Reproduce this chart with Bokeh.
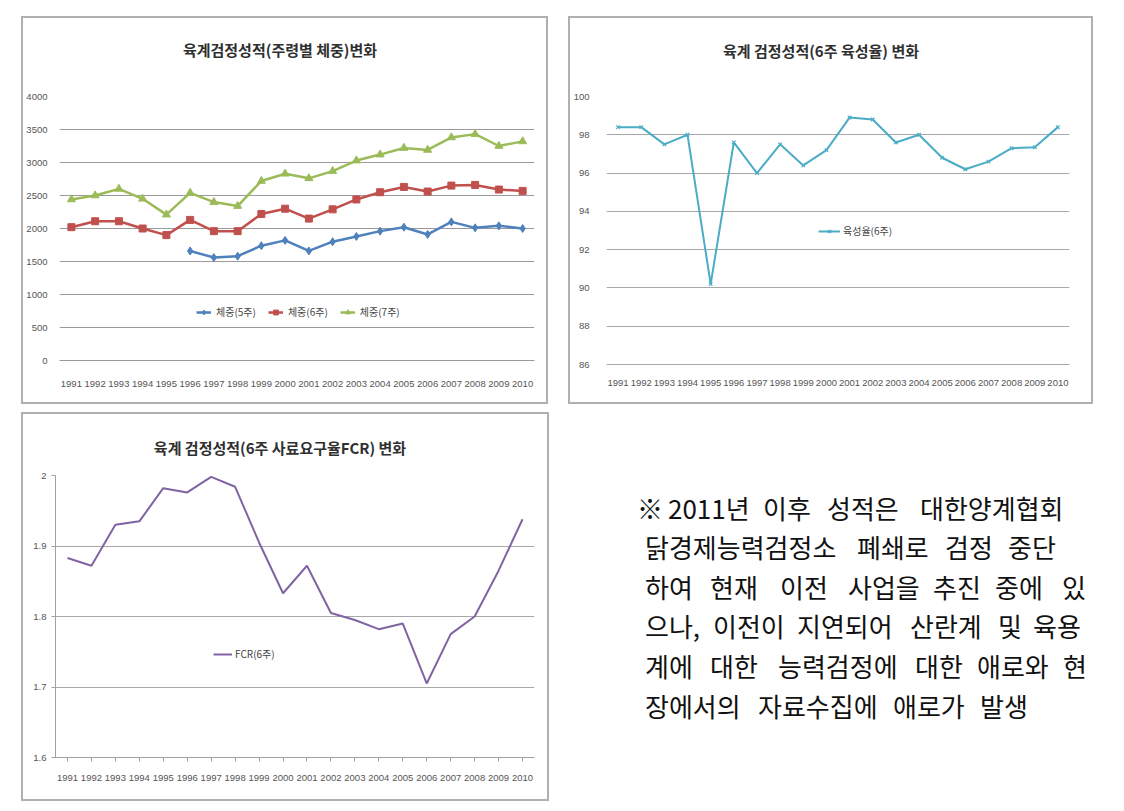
from bokeh.plotting import figure
from bokeh.models import FactorRange, Range1d, Legend, LegendItem, FixedTicker, Div, Spacer
from bokeh.layouts import row, column
from bokeh.embed import file_html
from bokeh.resources import INLINE

NaN = float("nan")

# ---------------- data ----------------
years = ["1991", "1992", "1993", "1994", "1995", "1996", "1997", "1998", "1999", "2000",
         "2001", "2002", "2003", "2004", "2005", "2006", "2007", "2008", "2009", "2010"]

weight_5wk = [NaN, NaN, NaN, NaN, NaN, 1660, 1560, 1580, 1740, 1820,
              1660, 1800, 1880, 1960, 2020, 1910, 2100, 2010, 2040, 2000]
weight_6wk = [2020, 2110, 2110, 2000, 1900, 2130, 1960, 1960, 2220, 2300,
              2150, 2290, 2440, 2550, 2630, 2560, 2650, 2660, 2590, 2570]
weight_7wk = [2440, 2500, 2600, 2450, 2210, 2540, 2400, 2340, 2720, 2830,
              2760, 2870, 3030, 3120, 3220, 3190, 3380, 3430, 3250, 3320]

survival_6wk = [98.4, 98.4, 97.5, 98.0, 90.2, 97.6, 96.0, 97.5, 96.4, 97.2,
                98.9, 98.8, 97.6, 98.0, 96.8, 96.2, 96.6, 97.3, 97.35, 98.4]

fcr_6wk = [1.883, 1.872, 1.930, 1.935, 1.982, 1.976, 1.998, 1.984, 1.905, 1.833,
           1.872, 1.805, 1.795, 1.782, 1.790, 1.705, 1.775, 1.800, 1.865, 1.938]

title1 = "육계검정성적(주령별 체중)변화"
title2 = "육계 검정성적(6주 육성율) 변화"
title3 = "육계 검정성적(6주 사료요구율FCR) 변화"
legend1 = ["체중(5주)", "체중(6주)", "체중(7주)"]
legend2 = "육성율(6주)"
legend3 = "FCR(6주)"

y1_ticks = [0, 500, 1000, 1500, 2000, 2500, 3000, 3500, 4000]
y2_ticks = [86, 88, 90, 92, 94, 96, 98, 100]
y3_ticks = [1.6, 1.7, 1.8, 1.9, 2.0]

note_lines = [
    "※ 2011년 이후 성적은 대한양계협회",
    "닭경제능력검정소 폐쇄로 검정 중단",
    "하여 현재 이전 사업을 추진 중에 있",
    "으나, 이전이 지연되어 산란계 및 육용",
    "계에 대한 능력검정에 대한 애로와 현",
    "장에서의 자료수집에 애로가 발생",
]

# ---------------- style / layout ----------------
KFONT = "Noto Sans CJK KR"
TFONT = "'Liberation Sans Narrow', 'Liberation Sans', sans-serif"
BC = "#b0b0b0"
FIG_BORDER = {"border-left": f"2px solid {BC}", "border-right": f"2px solid {BC}",
              "border-bottom": f"2px solid {BC}", "border-top": "none"}
HEAD_BORDER = {"border-left": f"2px solid {BC}", "border-right": f"2px solid {BC}",
               "border-top": f"2px solid {BC}", "border-bottom": "none",
               "background-color": "white"}

# page x of each word's left edge, page y of each line's centre
NOTE_LEFT = 549
NOTE_TOP = 412
word_x = [
    [637, 668, 763, 827, 920],
    [645, 857, 945, 1008],
    [645, 710, 780, 848, 933, 995, 1062],
    [645, 713, 797, 910, 998, 1033],
    [645, 710, 778, 915, 977, 1063],
    [645, 758, 893, 980],
]
line_cy = [509, 548, 588, 627, 667, 707]
NOTE_FS = 26


def head(text, w, h, cx, top):
    html = (f'<div style="position:relative;width:{w - 4}px;height:{h - 2}px;">'
            f'<div style="position:absolute;left:{cx - 170}px;top:{top}px;width:340px;'
            f'text-align:center;white-space:nowrap;font-family:\'{KFONT}\';font-weight:bold;'
            f'font-size:15px;line-height:20px;color:#303030;">{text}</div></div>')
    return Div(text=html, width=w, height=h, styles=HEAD_BORDER, margin=0)


def base_fig(w, h, bl, br, bt, bb, yr):
    p = figure(width=w, height=h, x_range=FactorRange(*years), y_range=yr,
               output_backend="svg", toolbar_location=None,
               min_border_left=bl, min_border_right=br, min_border_top=bt, min_border_bottom=bb,
               background_fill_color="white", border_fill_color="white", styles=FIG_BORDER)
    p.outline_line_color = None
    p.xgrid.grid_line_color = None
    p.ygrid.grid_line_color = "#9a9a9a"
    p.ygrid.grid_line_width = 1.2
    for ax in (p.xaxis[0], p.yaxis[0]):
        ax.major_label_text_font = TFONT
        ax.major_label_text_font_size = "9.5px"
        ax.major_label_text_color = "#555555"
        ax.minor_tick_line_color = None
    return p


def add_legend(p, items, x, y, glyph_w, standoff, spacing):
    lg = Legend(items=items, location=(x, y), orientation="horizontal",
                padding=0, margin=0, spacing=spacing, border_line_color=None,
                background_fill_alpha=0, label_text_font=KFONT, label_text_font_size="10px",
                label_text_color="#444444", glyph_width=glyph_w, glyph_height=12,
                label_height=12, label_standoff=standoff)
    p.add_layout(lg)


# ---------------- chart 1 ----------------
d1 = head(title1, 527, 60, 257, 22)
p1 = base_fig(527, 328, 33, 16, 20, 44, Range1d(0, 4000))
p1.yaxis.ticker = FixedTicker(ticks=y1_ticks)
p1.yaxis.axis_line_color = None
p1.yaxis.major_tick_line_color = None
p1.yaxis.major_label_standoff = 6
p1.xaxis.axis_line_color = "#9a9a9a"
p1.xaxis.major_tick_line_color = None
p1.xaxis.major_label_standoff = 14

cols1 = ["#4f81bd", "#c0504d", "#9bbb59"]
series1 = [weight_5wk, weight_6wk, weight_7wk]
markers1 = ["diamond", "square", "triangle"]
msizes1 = [8, 7, 8]
items1 = []
for name, vals, c, m, ms in zip(legend1, series1, cols1, markers1, msizes1):
    l = p1.line(years, vals, line_color=c, line_width=2.5)
    s = p1.scatter(years, vals, marker=m, size=ms, fill_color=c, line_color=c)
    items1.append(LegendItem(label=name, renderers=[l, s]))
add_legend(p1, items1, 137, 41, 15, 5, 12)

# ---------------- chart 2 ----------------
d2 = head(title2, 525, 60, 251, 23)
p2 = base_fig(525, 328, 30, 26, 20, 40, Range1d(86, 100))
p2.yaxis.ticker = FixedTicker(ticks=y2_ticks)
p2.yaxis.axis_line_color = None
p2.yaxis.major_tick_line_color = None
p2.yaxis.major_label_standoff = 11
p2.ygrid.grid_line_color = "#a8a8a8"
p2.xaxis.axis_line_color = "#a8a8a8"
p2.xaxis.major_tick_line_color = None
p2.xaxis.major_label_standoff = 9

l2 = p2.line(years, survival_6wk, line_color="#4bacc6", line_width=2)
s2 = p2.scatter(years, survival_6wk, marker="x", size=5, line_color="#4bacc6", line_width=1.2)
add_legend(p2, [LegendItem(label=legend2, renderers=[l2, s2])], 212, 126, 22, 3, 10)

# ---------------- chart 3 ----------------
d3 = head(title3, 528, 50, 257, 24)
p3 = base_fig(528, 339, 32, 17, 13, 44, Range1d(1.6, 2.0))
p3.yaxis.ticker = FixedTicker(ticks=y3_ticks)
p3.yaxis.major_label_overrides = {2: "2"}
p3.yaxis.axis_line_color = "#a0a0a0"
p3.yaxis.major_tick_line_color = "#a0a0a0"
p3.yaxis.major_tick_out = 4
p3.yaxis.major_tick_in = 0
p3.yaxis.major_label_standoff = 5
p3.ygrid.grid_line_color = "#a8a8a8"
p3.ygrid.ticker = FixedTicker(ticks=[1.7, 1.8, 1.9, 2.0])
p3.xaxis.axis_line_color = "#a0a0a0"
p3.xaxis.major_tick_line_color = "#a0a0a0"
p3.xaxis.major_tick_out = 4
p3.xaxis.major_tick_in = 0
p3.xaxis.major_label_standoff = 13

l3 = p3.line(years, fcr_6wk, line_color="#8064a2", line_width=2)
add_legend(p3, [LegendItem(label=legend3, renderers=[l3])], 158, 96, 19, 3, 10)

# ---------------- note text ----------------
parts = []
for line, xs, cy in zip(note_lines, word_x, line_cy):
    top = cy - NOTE_TOP - 0.556 * NOTE_FS
    for word, x in zip(line.split(" "), xs):
        parts.append(f'<span style="position:absolute;left:{x - NOTE_LEFT}px;top:{top:.1f}px;'
                     f'line-height:{NOTE_FS}px;white-space:nowrap;">{word}</span>')
html = (f'<div style="position:relative;width:560px;height:389px;font-family:\'{KFONT}\';'
        f'font-size:{NOTE_FS}px;color:#111111;">' + "".join(parts) + '</div>')
note = Div(text=html, width=560, height=389, margin=0)

layout = column(
    Spacer(height=16),
    row(Spacer(width=21), column(d1, p1), Spacer(width=20), column(d2, p2)),
    Spacer(height=8),
    row(Spacer(width=21), column(d3, p3), note),
)

open("out.html", "w").write(file_html(layout, INLINE))
